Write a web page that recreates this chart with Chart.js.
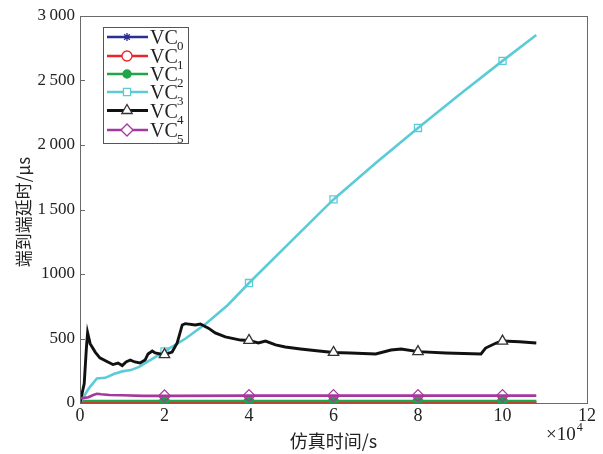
<!DOCTYPE html>
<html>
<head>
<meta charset="utf-8">
<script src="https://cdn.jsdelivr.net/npm/chart.js@4/dist/chart.umd.min.js"></script>
<style>
  html, body { margin: 0; padding: 0; background: #fff; }
  #wrap { width: 603px; height: 454px; position: relative; }
</style>
</head>
<body>
<div id="wrap"><canvas id="c" width="603" height="454"></canvas></div>
<script>
// ---- data (x in units of 1e4 s, y in µs) ----
const seriesNames = ["VC", "VC", "VC", "VC", "VC", "VC"];
const seriesSubs = ["0", "1", "2", "3", "4", "5"];

const vc0X = [0, 0.5, 1, 2, 4, 6, 8, 10, 10.8];
const vc0Y = [2, 2, 2, 2, 2, 2, 2, 2, 2];

const vc1X = [0, 0.5, 1, 2, 4, 6, 8, 10, 10.8];
const vc1Y = [8, 8, 8, 8, 8, 8, 8, 8, 8];

const vc2X = [0, 0.5, 1, 2, 4, 6, 8, 10, 10.8];
const vc2Y = [16, 16, 16, 16, 16, 16, 16, 16, 16];

const vc3X = [0, 0.2, 0.4, 0.6, 0.8, 1.0, 1.2, 1.4, 1.6, 1.8, 2.0, 2.5, 3.0, 3.5, 4.0, 5.0, 6.0, 7.0, 8.0, 9.0, 10.0, 10.8];
const vc3Y = [0, 110, 190, 195, 225, 245, 255, 280, 320, 360, 400, 500, 620, 760, 930, 1255, 1578, 1860, 2132, 2395, 2652, 2853];

const vc4X = [0, 0.1, 0.15, 0.18, 0.24, 0.36, 0.47, 0.66, 0.78, 0.9, 1.0, 1.09, 1.19, 1.3, 1.42, 1.54, 1.61, 1.71, 1.78, 1.9, 2.0, 2.18, 2.3, 2.42, 2.49, 2.73, 2.85, 3.04, 3.2, 3.44, 3.8, 4.0, 4.22, 4.39, 4.63, 4.86, 5.22, 5.6, 6.0, 6.4, 7.0, 7.36, 7.6, 8.0, 8.66, 9.49, 9.6, 9.85, 10.0, 10.4, 10.8];
const vc4Y = [0, 150, 420, 545, 460, 395, 350, 318, 298, 310, 290, 318, 333, 318, 310, 333, 380, 403, 388, 380, 375, 395, 465, 605, 615, 605, 612, 580, 543, 512, 488, 485, 465, 480, 450, 434, 419, 405, 392, 388, 380, 411, 419, 398, 388, 380, 426, 465, 480, 475, 465];

const vc5X = [0, 0.1, 0.2, 0.3, 0.4, 0.5, 0.7, 1.0, 1.5, 2.0, 4.0, 6.0, 8.0, 10.0, 10.8];
const vc5Y = [38, 40, 45, 60, 72, 68, 62, 60, 55, 55, 57, 57, 57, 57, 57];

const xTickValues = [0, 2, 4, 6, 8, 10, 12];
const xTickLabels = ["0", "2", "4", "6", "8", "10", "12"];
const yTickValues = [0, 500, 1000, 1500, 2000, 2500, 3000];
const yTickLabels = ["0", "500", "1000", "1\u2009500", "2\u2009000", "2\u2009500", "3\u2009000"];
const markerXs = [2, 4, 6, 8, 10];

const xTitle = "仿真时间/s";
const yTitle = "端到端延时/μs";
const xExponent = "×10";
const xExponentPow = "4";

// ---- styles ----
const colors = ["#2b2f8f", "#e8262b", "#1fa54a", "#5ccbd8", "#111111", "#a6379e"];
const pstyles = ["star", "circle", "circle", "rect", "triangle", "rectRot"];
const pfills = ["#2b2f8f", "rgba(0,0,0,0)", "#1fa54a", "rgba(0,0,0,0)", "#ffffff", "rgba(0,0,0,0)"];
const pedge = ["#2b2f8f", "#e8262b", "#1fa54a", "#5ccbd8", "#333333", "#a6379e"];
const prad = [4, 5, 4, 5, 6, 6];
const lw = [2.6, 2.6, 2.6, 2.6, 2.9, 2.6];
const serif = "'Liberation Serif', 'DejaVu Serif', serif";
const cjk = "'Noto Sans CJK SC', 'Noto Sans', sans-serif";

const xs = [vc0X, vc1X, vc2X, vc3X, vc4X, vc5X];
const ys = [vc0Y, vc1Y, vc2Y, vc3Y, vc4Y, vc5Y];

const datasets = xs.map((X, i) => ({
  label: seriesNames[i] + seriesSubs[i],
  data: X.map((x, k) => ({ x: x, y: ys[i][k] })),
  borderColor: colors[i],
  backgroundColor: pfills[i],
  borderWidth: lw[i],
  pointStyle: pstyles[i],
  pointBorderColor: pedge[i],
  pointBackgroundColor: pfills[i],
  pointBorderWidth: 1.3,
  pointRadius: ctx => (ctx.raw && markerXs.includes(ctx.raw.x)) ? prad[i] : 0,
  pointHoverRadius: 0,
  tension: 0,
  fill: false,
  order: 6 - i
}));

const frame = {
  id: "frame",
  afterDraw(chart) {
    const { ctx, chartArea: a, scales } = chart;
    ctx.save();
    ctx.strokeStyle = "#6a6a6a";
    ctx.lineWidth = 1;
    ctx.strokeRect(a.left + 0.5, a.top + 0.5, a.right - a.left, a.bottom - a.top);
    // inward ticks
    ctx.beginPath();
    yTickValues.forEach(v => {
      const y = Math.round(scales.y.getPixelForValue(v)) + 0.5;
      ctx.moveTo(a.left, y); ctx.lineTo(a.left + 5, y);
    });
    xTickValues.forEach(v => {
      const x = Math.round(scales.x.getPixelForValue(v)) + 0.5;
      ctx.moveTo(x, a.bottom); ctx.lineTo(x, a.bottom - 5);
    });
    ctx.stroke();

    // axis titles
    ctx.fillStyle = "#222";
    ctx.textAlign = "center";
    ctx.textBaseline = "middle";
    ctx.font = "18px " + cjk;
    ctx.fillText(xTitle, (a.left + a.right) / 2, 441);
    ctx.save();
    ctx.translate(24, 212);
    ctx.rotate(-Math.PI / 2);
    ctx.font = "17px " + cjk;
    ctx.fillText(yTitle, 0, 0);
    ctx.restore();

    // exponent
    ctx.textAlign = "left";
    ctx.textBaseline = "alphabetic";
    ctx.font = "19px " + serif;
    ctx.fillText(xExponent, 546, 440);
    const w = ctx.measureText(xExponent).width;
    ctx.font = "12px " + serif;
    ctx.fillText(xExponentPow, 546 + w + 1, 431);

    // legend
    const lx = 103, ly = 27, lwid = 85, lh = 116;
    ctx.fillStyle = "#fff";
    ctx.fillRect(lx, ly, lwid, lh);
    ctx.strokeStyle = "#555";
    ctx.lineWidth = 1;
    ctx.strokeRect(lx + 0.5, ly + 0.5, lwid, lh);
    const rowY = [37, 56, 74, 92, 110.5, 130];
    chart.data.datasets.forEach((ds, i) => {
      const y = rowY[i];
      ctx.strokeStyle = colors[i];
      ctx.lineWidth = lw[i];
      ctx.beginPath(); ctx.moveTo(107, y); ctx.lineTo(148, y); ctx.stroke();
      ctx.fillStyle = pfills[i] === "rgba(0,0,0,0)" ? "#fff" : pfills[i];
      ctx.strokeStyle = pedge[i];
      ctx.lineWidth = 1.3;
      Chart.helpers.drawPoint(ctx, { pointStyle: pstyles[i], radius: prad[i], borderWidth: 1.3, rotation: 0 }, 127, y);
      ctx.fillStyle = "#222";
      ctx.textAlign = "left";
      ctx.textBaseline = "alphabetic";
      ctx.font = "20px " + serif;
      ctx.fillText(seriesNames[i], 150, y + 7);
      ctx.font = "13px " + serif;
      ctx.fillText(seriesSubs[i], 177, y + 13);
    });
    ctx.restore();
  }
};

new Chart(document.getElementById("c"), {
  type: "line",
  data: { datasets },
  plugins: [frame],
  options: {
    responsive: false,
    animation: false,
    devicePixelRatio: 1,
    layout: { padding: { left: 0, right: 16, top: 16, bottom: 0 } },
    plugins: { legend: { display: false }, tooltip: { enabled: false } },
    scales: {
      x: {
        type: "linear", min: 0, max: 12,
        afterFit: s => { s.height = 51; },
        afterBuildTicks: s => { s.ticks = xTickValues.map(v => ({ value: v })); },
        ticks: {
          callback: v => xTickLabels[xTickValues.indexOf(v)],
          font: { family: serif, size: 18 }, color: "#222", padding: 2, maxRotation: 0
        },
        grid: { display: false, drawTicks: false },
        border: { display: false }
      },
      y: {
        type: "linear", min: 0, max: 3000,
        afterFit: s => { s.width = 80; },
        afterBuildTicks: s => { s.ticks = yTickValues.map(v => ({ value: v })); },
        ticks: {
          callback: v => yTickLabels[yTickValues.indexOf(v)],
          font: { family: serif, size: 17 }, color: "#222", padding: 5
        },
        grid: { display: false, drawTicks: false },
        border: { display: false }
      }
    }
  }
});
</script>
</body>
</html>
